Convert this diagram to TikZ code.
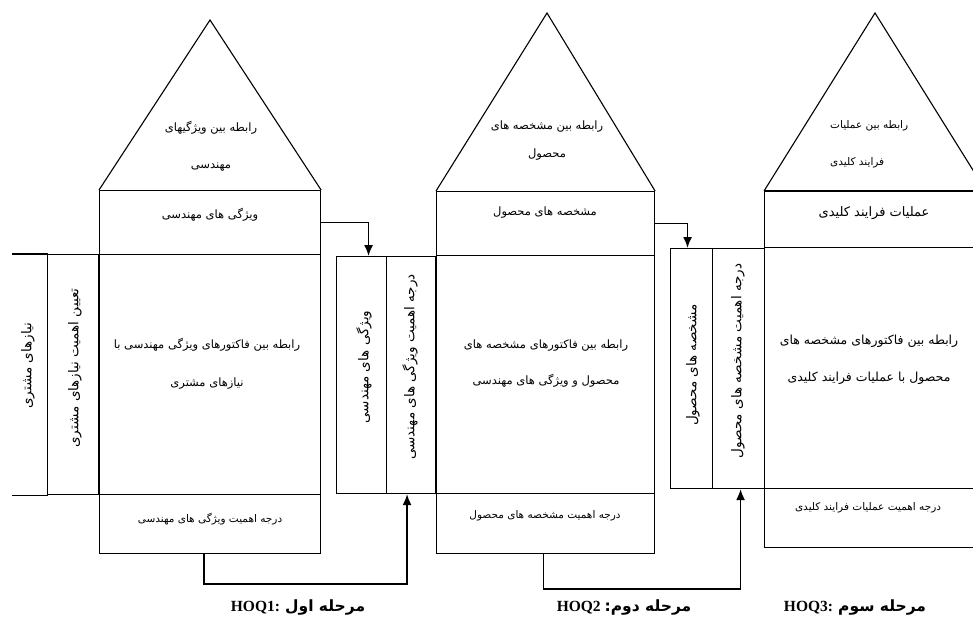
\documentclass[tikz,border=0pt]{standalone}
\usepackage{fontspec}
\usetikzlibrary{arrows.meta}
\setmainfont{Liberation Serif}
\newfontfamily\arabicfont[Script=Arabic]{DejaVu Sans}
\TeXXeTstate=1
\newcommand{\persiantext}[1]{\beginR #1\endR}

\begin{document}
\begin{tikzpicture}[
	x=1pt, y=-1pt,
	cell/.style={
		rectangle,
		draw,
		line width=1.1pt,
		anchor=north west,
		inner sep=0pt,
	},
	txt/.style={
		font=\arabicfont\fontsize{11.5}{14}\selectfont,
		inner sep=1pt,
		align=center,
	},
	smalltxt/.style={
		txt,
		font=\arabicfont\fontsize{10.5}{13}\selectfont,
	},
	vtxt/.style={
		txt,
		font=\arabicfont\fontsize{13.5}{16}\selectfont,
		rotate=90,
	},
	stage/.style={
		font=\bfseries\fontsize{15.5}{18}\selectfont,
		inner sep=1pt,
	},
	ArrowQ/.style={% Arrows between the houses
		line width=1.6pt,
	},
]

\useasboundingbox (0,0) rectangle (973,625);

% HOQ1
\node[cell, minimum width=221pt, minimum height=64pt] (roof1) at (99,190) {};
\node[cell, minimum width=221pt, minimum height=240pt] (main1) at (99,254) {};
\node[cell, minimum width=221pt, minimum height=59pt] (bot1) at (99,494) {};
\node[cell, minimum width=51pt, minimum height=240pt] (col1b) at (47,254) {};
\node[cell, draw=none, minimum width=35pt, minimum height=240pt] (col1a) at (12,254) {};
\draw[line width=1.1pt] (col1a.north west) -- (col1a.north east);
\draw[line width=1.1pt] (col1a.south west) -- (col1a.south east);
\coordinate (apex1) at (210,20);
\draw[line width=1.1pt] (roof1.north west) -- (apex1) -- (roof1.north east);

\node[txt] (tri1t) at (211,146) {\persiantext{رابطه بین ویژگیهای}\\[23pt]\persiantext{مهندسی}};
\node[txt] (roof1t) at (210,215) {\persiantext{ویژگی های مهندسی}};
\node[txt] (main1t) at (207,364) {\persiantext{رابطه بین فاکتورهای ویژگی مهندسی با}\\[24pt]\persiantext{نیازهای مشتری}};
\node[smalltxt] (bot1t) at (210,519) {\persiantext{درجه اهمیت ویژگی های مهندسی}};
\node[vtxt] (col1at) at (28,366) {\persiantext{نیازهای مشتری}};
\node[vtxt] (col1bt) at (75,368) {\persiantext{تعیین اهمیت نیازهای مشتری}};

% HOQ2
\node[cell, minimum width=218pt, minimum height=64pt] (roof2) at (436,191) {};
\node[cell, minimum width=218pt, minimum height=238pt] (main2) at (436,255) {};
\node[cell, minimum width=218pt, minimum height=60pt] (bot2) at (436,493) {};
\node[cell, minimum width=50pt, minimum height=237pt] (col2a) at (336,256) {};
\node[cell, minimum width=49pt, minimum height=237pt] (col2b) at (386,256) {};
\coordinate (apex2) at (547,13);
\draw[line width=1.1pt] (roof2.north west) -- (apex2) -- (roof2.north east);

\node[txt] (tri2t) at (547,141) {\persiantext{رابطه بین مشخصه های}\\[14pt]\persiantext{محصول}};
\node[txt] (roof2t) at (545,213) {\persiantext{مشخصه های محصول}};
\node[txt] (main2t) at (546,364) {\persiantext{رابطه بین فاکتورهای مشخصه های}\\[22pt]\persiantext{محصول و ویژگی های مهندسی}};
\node[smalltxt] (bot2t) at (545,516) {\persiantext{درجه اهمیت مشخصه های محصول}};
\node[vtxt] (col2at) at (364,367) {\persiantext{ویژگی های مهندسی}};
\node[vtxt] (col2bt) at (410,367) {\persiantext{درجه اهمیت ویژگی های مهندسی}};

% HOQ3
\node[cell, minimum width=215pt, minimum height=56pt] (roof3) at (764,191) {};
\node[cell, minimum width=215pt, minimum height=241pt] (main3) at (764,247) {};
\node[cell, minimum width=215pt, minimum height=59pt] (bot3) at (764,488) {};
\node[cell, minimum width=42pt, minimum height=240pt] (col3a) at (670,248) {};
\node[cell, minimum width=52pt, minimum height=240pt] (col3b) at (712,248) {};
\draw[line width=2.2pt] (roof3.north west) -- (roof3.north east);
\coordinate (apex3) at (875,13);
\draw[line width=1.1pt] (roof3.north west) -- (apex3) -- ++(111,178);

\node[txt, font=\arabicfont\fontsize{10.5}{13}\selectfont, align=left, anchor=west] (tri3t) at (829,144) {\persiantext{رابطه بین عملیات}\\[24pt]\persiantext{فرایند کلیدی}};
\node[txt, font=\arabicfont\fontsize{13}{15}\selectfont] (roof3t) at (874,213) {\persiantext{عملیات فرایند کلیدی}};
\node[txt, font=\arabicfont\fontsize{12.5}{15}\selectfont] (main3t) at (869,360) {\persiantext{رابطه بین فاکتورهای مشخصه های}\\[22pt]\persiantext{محصول با عملیات فرایند کلیدی}};
\node[smalltxt] (bot3t) at (868,508) {\persiantext{درجه اهمیت عملیات فرایند کلیدی}};
\node[vtxt] (col3at) at (693,365) {\persiantext{مشخصه های محصول}};
\node[vtxt] (col3bt) at (738,361) {\persiantext{درجه اهمیت مشخصه های محصول}};

% links between the houses
\draw[-{Latex[length=11pt,width=9pt]}, ArrowQ] (roof1.east) -| ([xshift=7pt]col2a.north);
\draw[-{Latex[length=11pt,width=9pt]}, ArrowQ] (roof2.east) -| ([xshift=-4pt]col3a.north);
\draw[-{Latex[length=11pt,width=9pt]}, ArrowQ] ([xshift=-6pt]bot1.south) -- ++(0,30) -| ([xshift=-4pt]col2b.south);
\draw[-{Latex[length=11pt,width=9pt]}, ArrowQ] ([xshift=-2pt]bot2.south) -- ++(0,35) -| ([xshift=2pt]col3b.south);

\node[stage] (hoq1) at (298,607) {HOQ1: {\arabicfont\persiantext{مرحله اول}}};
\node[stage] (hoq2) at (624,607) {HOQ2 {\arabicfont\persiantext{مرحله دوم:}}};
\node[stage] (hoq3) at (855,607) {HOQ3: {\arabicfont\persiantext{مرحله سوم}}};

\end{tikzpicture}
\end{document}
